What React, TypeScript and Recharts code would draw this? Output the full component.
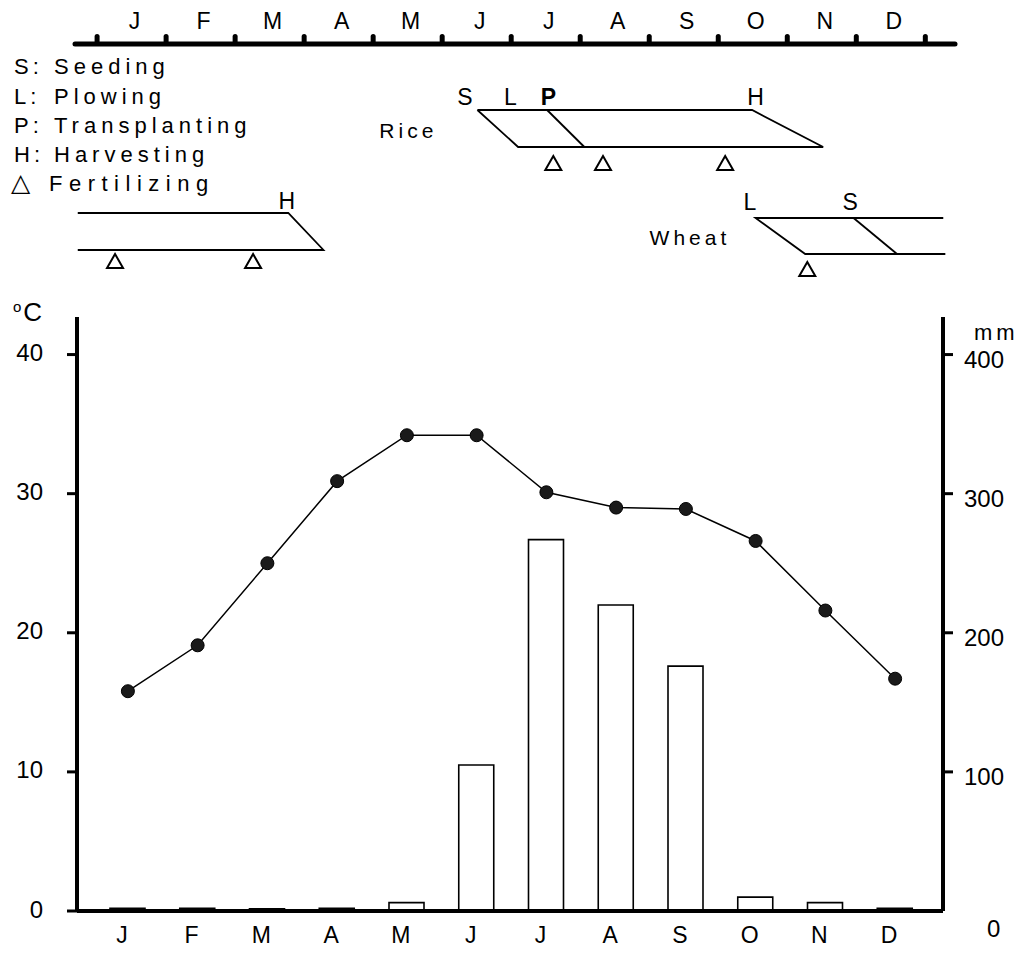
import {
  ComposedChart,
  Bar,
  Line,
  Scatter,
  XAxis,
  YAxis,
  ReferenceLine,
} from "recharts";

const FONT = '"Liberation Sans", Arial, Helvetica, sans-serif';

/* ── Climate data ───────────────────────────────────────────── */
const months = ["Jan", "Feb", "Mar", "Apr", "May", "Jun", "Jul", "Aug", "Sep", "Oct", "Nov", "Dec"];
const monthLetters = ["J", "F", "M", "A", "M", "J", "J", "A", "S", "O", "N", "D"];
const temperature = [15.8, 19.1, 25.0, 30.9, 34.2, 34.2, 30.1, 29.0, 28.9, 26.6, 21.6, 16.7];
const rainfall = [2, 2, 1.5, 2, 6, 105, 267, 220, 176, 10, 6, 2];
const tempTicks = [0, 10, 20, 30, 40];
const rainTicks = [100, 200, 300, 400];

/* ── Crop calendar (x = months from 1 Jan, y = row level) ───── */
const monthBoundaries = [0, 1, 2, 3, 4, 5, 6, 7, 8, 9, 10, 11, 12];
const monthCenters = [0.5, 1.5, 2.5, 3.5, 4.5, 5.5, 6.5, 7.5, 8.5, 9.5, 10.5, 11.5];
const RULER = 1.2;
const riceOutline = [
  { m: 5.51, y: 7.8 },
  { m: 9.49, y: 7.8 },
  { m: 10.52, y: 11.5 },
  { m: 6.1, y: 11.5 },
  { m: 5.51, y: 7.8 },
];
const riceTransplant = [
  { m: 6.52, y: 7.8 },
  { m: 7.06, y: 11.5 },
];
const wheatSpring = [
  { m: -0.28, y: 18.1 },
  { m: 2.77, y: 18.1 },
  { m: 3.28, y: 21.8 },
  { m: -0.28, y: 21.8 },
];
const wheatAutumn = [
  { m: 12.26, y: 18.6 },
  { m: 9.54, y: 18.6 },
  { m: 10.26, y: 22.2 },
  { m: 12.29, y: 22.2 },
];
const wheatSeeding = [
  { m: 10.96, y: 18.6 },
  { m: 11.59, y: 22.2 },
];
const fertilizing = [
  { m: 6.61, y: 13.1 },
  { m: 7.33, y: 13.1 },
  { m: 9.1, y: 13.1 },
  { m: 0.26, y: 22.9 },
  { m: 2.26, y: 22.9 },
  { m: 10.29, y: 23.7 },
];
const stageLabels = [
  { m: 5.33, y: 6.5, text: "S" },
  { m: 5.99, y: 6.5, text: "L" },
  { m: 6.54, y: 6.5, text: "P", bold: true },
  { m: 9.54, y: 6.5, text: "H" },
  { m: 2.75, y: 16.9, text: "H" },
  { m: 9.46, y: 17.0, text: "L" },
  { m: 10.91, y: 17.0, text: "S" },
];
const cropLabels = [
  { m: 4.51, y: 9.8, text: "Rice" },
  { m: 8.59, y: 20.5, text: "Wheat" },
];
const legendKeys = ["S:", "L:", "P:", "H:", "\u25B3"];
const legendNames = ["Seeding", "Plowing", "Transplanting", "Harvesting", "Fertilizing"];

const chartData = months.map((month, i) => ({
  month,
  temp: temperature[i],
  rain: rainfall[i],
}));

const numberTick = { fontSize: 24, fill: "#000", fontFamily: FONT };
const monthTick = { fontSize: 23, fill: "#000", fontFamily: FONT };

function Bump(props: any) {
  const { cx, cy } = props;
  return <rect x={cx - 2.5} y={cy - 10} width={5} height={10} rx={2.5} fill="#000" />;
}

function Triangle(props: any) {
  const { cx, cy } = props;
  const d = `M${cx},${cy - 7} L${cx + 8},${cy + 7} L${cx - 8},${cy + 7} Z`;
  return <path d={d} fill="#fff" stroke="#000" strokeWidth={2} />;
}

function TextMark(props: any) {
  const { cx, cy, payload } = props;
  const isWord = payload.text.length > 1;
  return (
    <text
      x={cx}
      y={cy}
      textAnchor="middle"
      dominantBaseline="central"
      fontSize={isWord ? 21 : 23}
      fontFamily={FONT}
      fontWeight={payload.bold ? 700 : 400}
      letterSpacing={isWord ? 4 : 0}
      fill="#000"
    >
      {payload.text}
    </text>
  );
}

function CropCalendar() {
  const seg = {
    type: "linear" as const,
    dataKey: "y",
    stroke: "#000",
    strokeWidth: 1.8,
    dot: false,
    isAnimationActive: false,
  };
  return (
    <ComposedChart width={1031} height={292} margin={{ top: 0, right: 76, bottom: 0, left: 75 }}>
      <XAxis
        type="number"
        dataKey="m"
        orientation="top"
        domain={[-0.32, 12.43]}
        allowDataOverflow
        ticks={monthCenters}
        tickFormatter={(v: number) => monthLetters[Math.floor(v)]}
        axisLine={false}
        tickLine={false}
        tickSize={0}
        tickMargin={3}
        height={32}
        tick={{ ...monthTick, dx: 3 }}
        interval={0}
      />
      <YAxis type="number" dataKey="y" domain={[0, 26]} reversed hide allowDataOverflow />
      <ReferenceLine y={RULER} stroke="#000" strokeWidth={5} strokeLinecap="round" />
      <Scatter
        data={monthBoundaries.map((m) => ({ m, y: RULER }))}
        shape={<Bump />}
        isAnimationActive={false}
      />
      <Line data={riceOutline} {...seg} />
      <Line data={riceTransplant} {...seg} />
      <Line data={wheatSpring} {...seg} />
      <Line data={wheatAutumn} {...seg} />
      <Line data={wheatSeeding} {...seg} />
      <Scatter data={fertilizing} shape={<Triangle />} isAnimationActive={false} />
      <Scatter data={stageLabels} shape={<TextMark />} isAnimationActive={false} />
      <Scatter data={cropLabels} shape={<TextMark />} isAnimationActive={false} />
    </ComposedChart>
  );
}

function ClimateChart() {
  return (
    <ComposedChart
      width={1031}
      height={670}
      data={chartData}
      margin={{ top: 27, right: 0, bottom: 0, left: 0 }}
    >
      <XAxis
        dataKey="month"
        tickFormatter={(_: string, i: number) => monthLetters[i]}
        padding={{ left: 16, right: 13 }}
        axisLine={{ stroke: "#000", strokeWidth: 4 }}
        tickLine={false}
        tickSize={0}
        tickMargin={16}
        height={49}
        interval={0}
        tick={{ ...monthTick, dx: -6 }}
      />
      <YAxis
        yAxisId="temp"
        domain={[0, 42.7]}
        ticks={tempTicks}
        width={77}
        axisLine={{ stroke: "#000", strokeWidth: 4 }}
        tickLine={{ stroke: "#000", strokeWidth: 3 }}
        tickSize={10}
        tickMargin={24}
        tick={{ ...numberTick, dy: -2 }}
        interval={0}
      />
      <YAxis
        yAxisId="rain"
        orientation="right"
        domain={[0, 427]}
        ticks={rainTicks}
        width={88}
        axisLine={{ stroke: "#000", strokeWidth: 4 }}
        tickLine={{ stroke: "#000", strokeWidth: 3 }}
        tickSize={10}
        tickMargin={11}
        tick={{ ...numberTick, dy: 5 }}
        interval={0}
      />
      <Bar
        yAxisId="rain"
        dataKey="rain"
        barSize={35}
        fill="#fff"
        stroke="#000"
        strokeWidth={1.6}
        isAnimationActive={false}
      />
      <Line
        yAxisId="temp"
        type="linear"
        dataKey="temp"
        stroke="#000"
        strokeWidth={1.5}
        dot={{ r: 6.5, fill: "#1a1a1a", stroke: "#000", strokeWidth: 1 }}
        isAnimationActive={false}
      />
    </ComposedChart>
  );
}

export default function App() {
  const text = {
    position: "absolute" as const,
    lineHeight: 1,
    color: "#000",
    whiteSpace: "nowrap" as const,
  };
  const legendCenters = [67, 97, 126, 155, 181];
  return (
    <div
      style={{
        position: "absolute",
        left: 0,
        top: 0,
        width: 1031,
        height: 960,
        background: "#fff",
        fontFamily: FONT,
        overflow: "hidden",
      }}
    >
      <div style={{ position: "absolute", left: 0, top: 0 }}>
        <CropCalendar />
      </div>
      <div style={{ position: "absolute", left: 0, top: 290 }}>
        <ClimateChart />
      </div>
      {legendNames.map((name, i) => (
        <div key={name} style={{ ...text, fontSize: 22, left: i === 4 ? 11 : 14, top: legendCenters[i] - 11 }}>
          <span
            style={{
              fontSize: i === 4 ? 25 : 22,
              letterSpacing: 4,
              display: "inline-block",
              width: i === 4 ? 38 : 40,
            }}
          >
            {legendKeys[i]}
          </span>
          <span style={{ letterSpacing: i === 4 ? 6.5 : 5 }}>{name}</span>
        </div>
      ))}
      <div style={{ ...text, fontSize: 26, left: 13, top: 299 }}>
        <span style={{ fontSize: 15, verticalAlign: 9, marginRight: 2 }}>o</span>C
      </div>
      <div style={{ ...text, fontSize: 22, left: 974, top: 322, letterSpacing: 4 }}>mm</div>
      <div style={{ ...text, fontSize: 24, left: 987, top: 917 }}>0</div>
    </div>
  );
}
